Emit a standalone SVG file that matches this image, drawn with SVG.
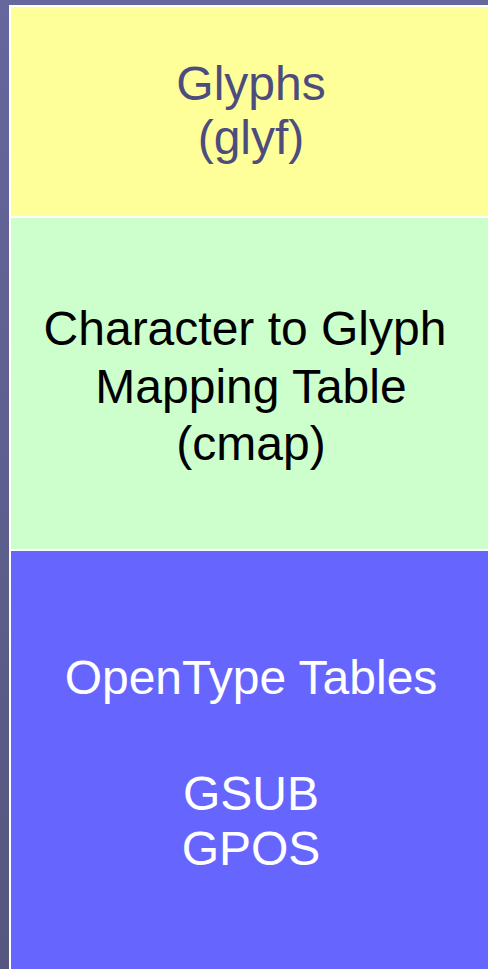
<svg xmlns="http://www.w3.org/2000/svg" width="488" height="969" viewBox="0 0 488 969">
  <style>
    .lbl { font-family: "Liberation Sans", Arial, sans-serif; font-size: 48px; text-anchor: middle; }
    .band { stroke: none; }
  </style>
  <defs>
    <linearGradient id="bg" x1="0" y1="0" x2="0" y2="1">
      <stop offset="0" stop-color="#65679d"/>
      <stop offset="1" stop-color="#55577f"/>
    </linearGradient>
  </defs>
  <!-- slide background -->
  <rect x="0" y="0" width="488" height="969" fill="url(#bg)"/>
  <!-- white frame behind the stacked tables -->
  <rect x="9" y="5" width="479" height="964" fill="#ffffff"/>

  <g id="glyf">
    <rect class="band" x="11" y="7" width="477" height="209" fill="#ffff99"/>
    <text class="lbl" x="251" y="100" fill="#4d4d7d">Glyphs</text>
    <text class="lbl" x="251" y="154" fill="#4d4d7d">(glyf)</text>
  </g>

  <g id="cmap">
    <rect class="band" x="11" y="218" width="477" height="331" fill="#ccffcc"/>
    <text class="lbl" x="245" y="345" fill="#000000">Character to Glyph</text>
    <text class="lbl" x="251" y="403" fill="#000000">Mapping Table</text>
    <text class="lbl" x="251" y="460" fill="#000000">(cmap)</text>
  </g>

  <g id="opentype">
    <rect class="band" x="11" y="551" width="477" height="418" fill="#6666ff"/>
    <text class="lbl" x="251" y="694" fill="#ffffff">OpenType Tables</text>
    <text class="lbl" x="251" y="810" fill="#ffffff">GSUB</text>
    <text class="lbl" x="251" y="865" fill="#ffffff">GPOS</text>
  </g>

  <g id="connectors"/>
</svg>
